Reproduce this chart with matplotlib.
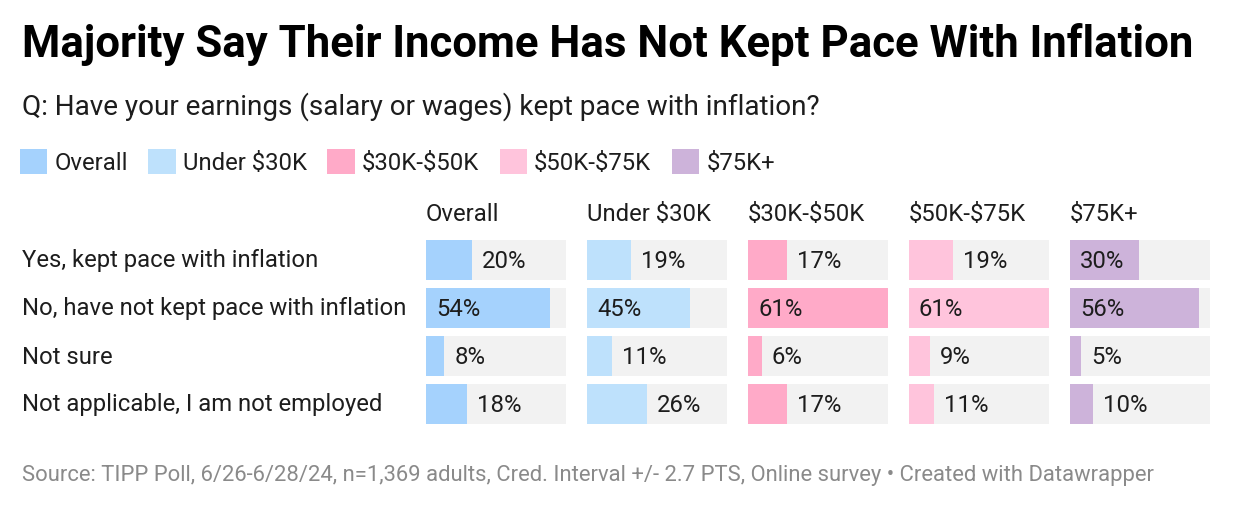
"""Income vs inflation poll, small multiple bar chart"""
import matplotlib
matplotlib.use('Agg')
from matplotlib import pyplot as plt
from matplotlib import transforms
from matplotlib.patches import Patch

plt.rcParams['font.family'] = ['Roboto', 'DejaVu Sans']
plt.rcParams['text.parse_math'] = False

answers = ['Yes, kept pace with inflation',
           'No, have not kept pace with inflation',
           'Not sure',
           'Not applicable, I am not employed']
groups = ['Overall', 'Under $30K', '$30K-$50K', '$50K-$75K', '$75K+']
overall = [20, 54, 8, 18]
under_30k = [19, 45, 11, 26]
k30_50 = [17, 61, 6, 17]
k50_75 = [19, 61, 9, 11]
k75_plus = [30, 56, 5, 10]
series = [overall, under_30k, k30_50, k50_75, k75_plus]
colors = ['#a5d2fd', '#bee1fc', '#ffaac8', '#ffc4dc', '#cdb3da']

W, H = 1240, 512
TEXT = '#1d1d1d'
FS = 17.2


def main():
    fig = plt.figure(figsize=(W / 100, H / 100), dpi=100)
    fig.text(22 / W, 1 - 45 / H, 'Majority Say Their Income Has Not Kept Pace With Inflation',
             fontsize=31.5, fontweight='bold', color='#000000', va='center', ha='left')
    fig.text(22 / W, 1 - 107 / H, 'Q: Have your earnings (salary or wages) kept pace with inflation?',
             fontsize=20.1, color=TEXT, va='center', ha='left')

    handles = [Patch(facecolor=c, edgecolor='none', label=g) for g, c in zip(groups, colors)]
    fig.legend(handles=handles, loc='center left', bbox_to_anchor=(20 / W, 1 - 162 / H),
               ncol=5, frameon=False, fontsize=FS, handlelength=1.15, handleheight=1.2,
               handletextpad=0.3, columnspacing=0.85, labelcolor=TEXT, borderpad=0,
               borderaxespad=0)

    xmax = max(max(s) for s in series)
    ypos = list(range(len(answers)))
    for i, (name, vals, col) in enumerate(zip(groups, series, colors)):
        left = 426 + i * 161
        ax = fig.add_axes([left / W, 1 - 428 / H, 140 / W, 192 / H])
        ax.barh(ypos, [xmax] * len(vals), height=40 / 48, color='#f2f2f2', linewidth=0)
        ax.barh(ypos, vals, height=40 / 48, color=col, linewidth=0)
        ax.set_xlim(0, xmax)
        ax.set_ylim(len(answers) - 0.5, -0.5)
        ax.axis('off')
        ax.text(0, 1.11, name, transform=ax.transAxes, fontsize=FS, color=TEXT,
                va='center', ha='left')
        off = transforms.offset_copy(ax.transData, fig=fig, x=10, y=-1, units='dots')
        for y, v in zip(ypos, vals):
            x = 0 if v >= 28 else v
            ax.text(x, y, f'{v}%', transform=off, fontsize=FS, color=TEXT,
                    va='center', ha='left')
        if i == 0:
            tr = transforms.offset_copy(
                transforms.blended_transform_factory(fig.transFigure, ax.transData),
                fig=fig, x=0, y=-1, units='dots')
            for y, a in zip(ypos, answers):
                ax.text(22 / W, y, a, transform=tr, fontsize=FS, color=TEXT,
                        va='center', ha='left', clip_on=False)

    fig.text(22 / W, 1 - 476 / H,
             'Source: TIPP Poll, 6/26-6/28/24, n=1,369 adults, Cred. Interval +/- 2.7 PTS, '
             'Online survey \u2022 Created with Datawrapper',
             fontsize=15.8, color='#8a8a8a', va='center', ha='left')
    fig.savefig('out.png', dpi=100, facecolor='white')


if __name__ == '__main__':
    main()
